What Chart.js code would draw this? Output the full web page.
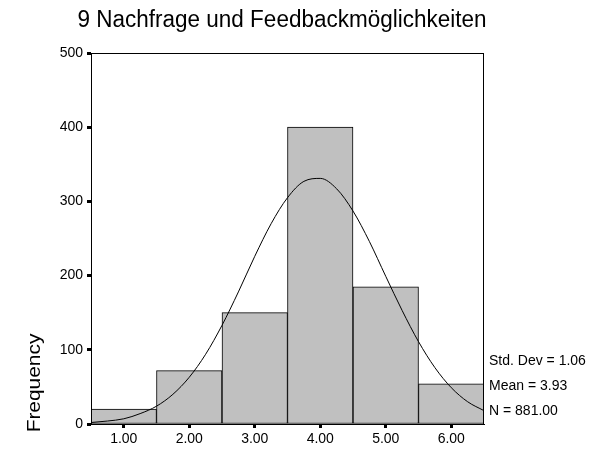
<!DOCTYPE html>
<html>
<head>
<meta charset="utf-8">
<script src="https://cdn.jsdelivr.net/npm/chart.js@4/dist/chart.umd.min.js"></script>
<style>
  html, body { margin: 0; padding: 0; background: #fff; }
  #wrap { width: 608px; height: 453px; position: relative; }
</style>
</head>
<body>
<div id="wrap"><canvas id="histChart"></canvas></div>
<script>
// ---------------------------------------------------------
// Data
// ---------------------------------------------------------
const chartTitle = '9 Nachfrage und Feedbackmöglichkeiten';
const binLabels = ['1.00', '2.00', '3.00', '4.00', '5.00', '6.00'];
const frequencies = [20, 72, 150, 400, 185, 54];

// normal curve at quarter steps
const curveX = [0.5, 0.75, 1.0, 1.25, 1.5, 1.75, 2.0, 2.25, 2.5, 2.75, 3.0, 3.25, 3.5,
                3.75, 4.0, 4.25, 4.5, 4.75, 5.0, 5.25, 5.5, 5.75, 6.0, 6.25, 6.5];
const curveY = [2, 4, 7, 14, 24, 40, 63, 94, 133, 178, 226, 270, 305,
                327, 331, 317, 287, 246, 199, 153, 111, 76, 49, 30, 18];

const statLines = ['Std. Dev = 1.06', 'Mean = 3.93', 'N = 881.00'];
const yTicks = [0, 100, 200, 300, 400, 500];

const FONT = "'Liberation Sans', Arial, sans-serif";

// ---------------------------------------------------------
// Extra drawing: frame, title, axis title, stats
// ---------------------------------------------------------
const decorPlugin = {
    id: 'decor',
    afterDatasetsDraw(chart) {
        const { ctx, chartArea: a } = chart;
        ctx.save();
        ctx.strokeStyle = '#000';
        ctx.lineWidth = 1;
        ctx.strokeRect(a.left + 0.5, a.top + 0.5, a.right - a.left - 1, a.bottom - a.top);

        ctx.fillStyle = '#000';
        ctx.textAlign = 'center';
        ctx.textBaseline = 'alphabetic';
        ctx.save();
        ctx.translate(282, 27);
        ctx.scale(1, 1.05);
        ctx.font = '22.5px ' + FONT;
        ctx.fillText(chartTitle, 0, 0);
        ctx.restore();

        // rotated axis title, a bit stretched like the original
        ctx.save();
        ctx.translate(40, 383);
        ctx.rotate(-Math.PI / 2);
        ctx.scale(1.1, 1);
        ctx.font = '19px ' + FONT;
        ctx.fillText('Frequency', 0, 0);
        ctx.restore();

        ctx.textAlign = 'left';
        ctx.textBaseline = 'middle';
        ctx.font = '14px ' + FONT;
        statLines.forEach((t, i) => ctx.fillText(t, a.right + 5, 361 + i * 25));
        ctx.restore();
    }
};

new Chart(document.getElementById('histChart'), {
    type: 'bar',
    data: {
        labels: binLabels,
        datasets: [
            {
                type: 'bar',
                data: frequencies,
                backgroundColor: '#c0c0c0',
                borderColor: '#000',
                borderWidth: 1,
                borderSkipped: false,
                barPercentage: 1,
                categoryPercentage: 1,
                grouped: false,
                order: 2
            },
            {
                type: 'line',
                xAxisID: 'xl',
                data: curveX.map((x, i) => ({ x: x, y: curveY[i] })),
                borderColor: '#000',
                borderWidth: 1,
                pointRadius: 0,
                fill: false,
                cubicInterpolationMode: 'monotone',
                order: 1
            }
        ]
    },
    options: {
        responsive: true,
        maintainAspectRatio: false,
        animation: false,
        devicePixelRatio: 1,
        layout: { padding: { left: 0, top: 53, right: 124, bottom: 0 } },
        plugins: {
            legend: { display: false },
            tooltip: { enabled: false },
            title: { display: false }
        },
        scales: {
            x: {
                type: 'category',
                offset: true,
                afterFit: s => { s.height = 29; },
                grid: {
                    display: true,
                    drawOnChartArea: false,
                    drawTicks: true,
                    tickLength: 4,
                    tickWidth: 3,
                    tickColor: '#000',
                    offset: false
                },
                border: { display: true, color: '#000', width: 1 },
                ticks: {
                    color: '#000',
                    font: { family: FONT, size: 14 },
                    padding: 3,
                    maxRotation: 0
                }
            },
            xl: {
                type: 'linear',
                axis: 'x',
                position: 'bottom',
                display: false,
                offset: false,
                grid: { offset: false },
                min: 0.5,
                max: 6.5
            },
            y: {
                min: 0,
                max: 500,
                afterFit: s => { s.width = 91; },
                afterBuildTicks: s => { s.ticks = yTicks.map(v => ({ value: v })); },
                grid: {
                    display: true,
                    drawOnChartArea: false,
                    drawTicks: true,
                    tickLength: 4,
                    tickWidth: 3,
                    tickColor: '#000'
                },
                border: { display: true, color: '#000', width: 1 },
                ticks: {
                    color: '#000',
                    font: { family: FONT, size: 14 },
                    padding: 4
                }
            }
        }
    },
    plugins: [decorPlugin]
});
</script>
</body>
</html>
